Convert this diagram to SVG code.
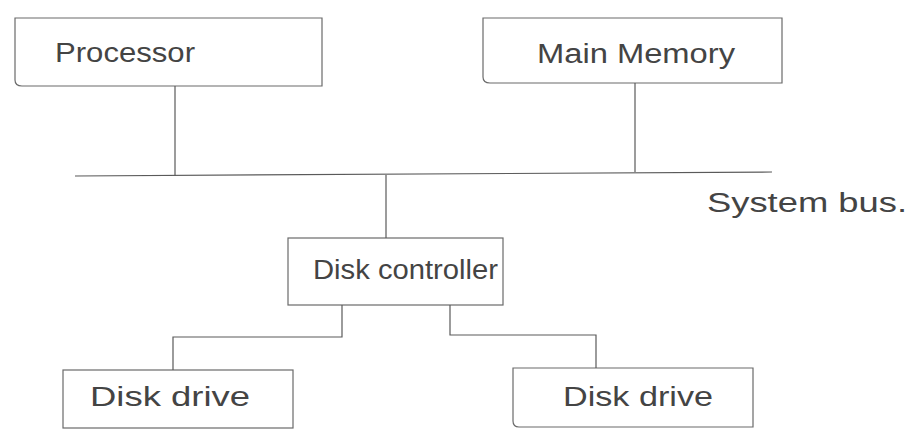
<svg xmlns="http://www.w3.org/2000/svg" width="913" height="439" viewBox="0 0 913 439">
  <style>
    .box { fill: none; stroke: #6a6a6a; stroke-width: 1.2; }
    .wire { fill: none; stroke: #5a5a5a; stroke-width: 1.2; }
    .label { font-family: "Liberation Sans", Arial, sans-serif; font-size: 27px; fill: #444444; }
  </style>
  <rect width="913" height="439" fill="#ffffff"/>

  <g id="processor">
    <path class="box" d="M15 18 L322 18 L322 86 L22 86 Q15 86 15 80 Z"/>
    <text class="label" x="55" y="62" textLength="140" lengthAdjust="spacingAndGlyphs">Processor</text>
  </g>

  <g id="main-memory">
    <path class="box" d="M483 18 L782 18 L782 83 L490 83 Q483 83 483 77 Z"/>
    <text class="label" x="537" y="63" textLength="198" lengthAdjust="spacingAndGlyphs">Main Memory</text>
  </g>

  <g id="disk-controller">
    <rect class="box" x="288" y="238" width="215" height="67"/>
    <text class="label" x="313" y="279" textLength="185" lengthAdjust="spacingAndGlyphs">Disk controller</text>
  </g>

  <g id="disk-drive-1">
    <rect class="box" x="63" y="370" width="230" height="58"/>
    <text class="label" x="90" y="406" textLength="160" lengthAdjust="spacingAndGlyphs">Disk drive</text>
  </g>

  <g id="disk-drive-2">
    <path class="box" d="M513 368 L753 368 L753 427 L519 427 Q513 427 513 421 Z"/>
    <text class="label" x="563" y="406" textLength="150" lengthAdjust="spacingAndGlyphs">Disk drive</text>
  </g>

  <g id="system-bus-label">
    <text class="label" x="707" y="212" textLength="200" lengthAdjust="spacingAndGlyphs">System bus.</text>
  </g>

  <g id="connectors">
    <!-- system bus -->
    <path class="wire" d="M75 176 L772 172"/>
    <!-- processor to bus -->
    <path class="wire" d="M175 86 L175 176"/>
    <!-- main memory to bus -->
    <path class="wire" d="M635 83 L635 172"/>
    <!-- bus to disk controller -->
    <path class="wire" d="M386 175 L386 238"/>
    <!-- controller to left drive -->
    <path class="wire" d="M342 305 L342 337 L173 337 L173 370"/>
    <!-- controller to right drive -->
    <path class="wire" d="M450 305 L450 335 L596 335 L596 368"/>
  </g>
</svg>
